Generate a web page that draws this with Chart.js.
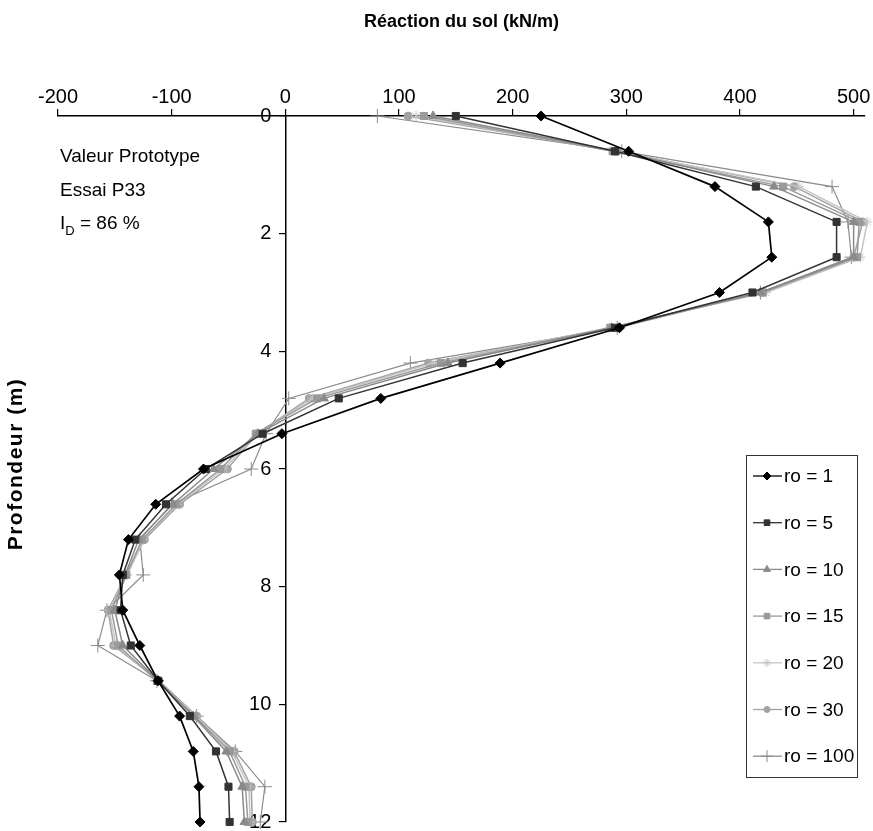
<!DOCTYPE html>
<html>
<head>
<meta charset="utf-8">
<script src="https://cdn.jsdelivr.net/npm/chart.js@4.4.1/dist/chart.umd.min.js"></script>
<style>
html, body { margin: 0; padding: 0; background: #fff; }
#wrap { width: 873px; height: 831px; }
</style>
</head>
<body>
<div id="wrap"><canvas id="reaction_chart"></canvas></div>
<script>
// profondeur (m)
const depths = [0, 0.6, 1.2, 1.8, 2.4, 3.0, 3.6, 4.2, 4.8, 5.4, 6.0, 6.6, 7.2, 7.8, 8.4, 9.0, 9.6, 10.2, 10.8, 11.4, 12.0];

// réaction du sol (kN/m) par série
const ro1   = [225, 302, 378, 425, 428, 382, 294, 189, 84, -3, -72, -114, -138, -146, -143, -128, -112, -93, -81, -76, -75];
const ro5   = [150, 290, 414, 485, 485, 411, 290, 156, 47, -20, -70, -105, -132, -143, -145, -136, -112, -84, -61, -50, -49];
const ro10  = [130, 292, 430, 500, 500, 418, 287, 143, 34, -24, -63, -99, -129, -141, -150, -143, -112, -81, -52, -38, -36];
const ro15  = [122, 288, 438, 505, 503, 420, 286, 137, 28, -26, -57, -96, -126, -140, -153, -147, -113, -80, -49, -35, -33];
const ro20  = [115, 290, 452, 512, 506, 423, 285, 130, 24, -25, -54, -95, -125, -139, -155, -149, -112, -79, -47, -32, -31];
const ro30  = [108, 292, 448, 508, 500, 420, 287, 126, 21, -25, -51, -93, -124, -140, -156, -151, -111, -78, -45, -30, -29];
const ro100 = [81, 296, 481, 495, 498, 418, 292, 110, 3, -17, -30, -100, -128, -125, -157, -165, -113, -78, -44, -18, -22];

const seriesLabels = ['ro = 1', 'ro = 5', 'ro = 10', 'ro = 15', 'ro = 20', 'ro = 30', 'ro = 100'];
const xTicks = [-200, -100, 0, 100, 200, 300, 400, 500];
const yTicks = [0, 2, 4, 6, 8, 10, 12];

const FONT = "'Liberation Sans', Arial, sans-serif";

function toPoints(values) {
    return depths.map((d, i) => ({ x: values[i], y: d }));
}

const styles = [
    { color: '#000000', point: 'rectRot', radius: 5, width: 1.7 },
    { color: '#333333', point: 'rect', radius: 5, width: 1.5 },
    { color: '#8a8a8a', point: 'triangle', radius: 5, width: 1.5 },
    { color: '#9a9a9a', point: 'rect', radius: 5, width: 1.5 },
    { color: '#c4c4c4', point: 'star', radius: 5, width: 1.5 },
    { color: '#a2a2a2', point: 'circle', radius: 4, width: 1.5 },
    { color: '#8c8c8c', point: 'cross', radius: 7, width: 1.2 },
];

const allSeries = [ro1, ro5, ro10, ro15, ro20, ro30, ro100];

// légende, texte et titre vertical dessinés sur le canvas
const extrasPlugin = {
    id: 'extras',
    afterDraw(chart) {
        const ctx = chart.ctx;
        ctx.save();

        // titre axe vertical
        ctx.translate(16, 464);
        ctx.rotate(-Math.PI / 2);
        ctx.font = 'bold 21px ' + FONT;
        ctx.letterSpacing = '1.5px';
        ctx.fillStyle = '#000';
        ctx.textAlign = 'center';
        ctx.textBaseline = 'middle';
        ctx.fillText('Profondeur (m)', 0, 0);
        ctx.restore();

        // texte essai
        ctx.save();
        ctx.fillStyle = '#000';
        ctx.font = '19px ' + FONT;
        ctx.textBaseline = 'middle';
        ctx.textAlign = 'left';
        ctx.fillText('Valeur Prototype', 60, 157);
        ctx.fillText('Essai P33', 60, 191);
        ctx.fillText('I', 60, 224);
        let w = ctx.measureText('I').width;
        ctx.font = '13px ' + FONT;
        ctx.fillText('D', 60 + w, 231);
        w += ctx.measureText('D').width;
        ctx.font = '19px ' + FONT;
        ctx.fillText(' = 86 %', 60 + w, 224);
        ctx.restore();

        // légende
        ctx.save();
        ctx.fillStyle = '#fff';
        ctx.fillRect(746, 455, 111, 322);
        ctx.strokeStyle = '#333';
        ctx.lineWidth = 1;
        ctx.strokeRect(746.5, 455.5, 111, 322);
        ctx.font = '19px ' + FONT;
        ctx.textBaseline = 'middle';
        ctx.textAlign = 'left';
        chart.data.datasets.forEach((ds, i) => {
            const y = 476 + i * 46.7;
            ctx.strokeStyle = ds.borderColor;
            ctx.fillStyle = ds.borderColor;
            ctx.lineWidth = 1.3;
            ctx.beginPath();
            ctx.moveTo(753, y);
            ctx.lineTo(782, y);
            ctx.stroke();
            ctx.lineWidth = 1;
            Chart.helpers.drawPoint(ctx, {
                pointStyle: ds.pointStyle,
                radius: Math.max(ds.pointRadius - 1, 3),
                rotation: 0,
                borderWidth: 1
            }, 767, y);
            ctx.fillStyle = '#000';
            ctx.fillText(ds.label, 784, y + 1);
        });
        ctx.restore();
    }
};

function fnReactionChart() {
    const ctx = document.getElementById('reaction_chart').getContext('2d');
    const datasets = allSeries.map((values, i) => ({
        label: seriesLabels[i],
        data: toPoints(values),
        showLine: true,
        borderColor: styles[i].color,
        backgroundColor: styles[i].color,
        borderWidth: styles[i].width,
        pointStyle: styles[i].point,
        pointRadius: styles[i].radius,
        pointBorderWidth: 1,
        pointBorderColor: styles[i].color,
        pointBackgroundColor: styles[i].color,
        clip: false,
        tension: 0,
    }));

    new Chart(ctx, {
        type: 'scatter',
        data: { datasets: datasets },
        options: {
            responsive: true,
            maintainAspectRatio: false,
            animation: false,
            layout: {
                padding: { left: 58, right: 2, top: 0, bottom: 9 }
            },
            scales: {
                x: {
                    type: 'linear',
                    position: 'top',
                    min: -200,
                    max: 510,
                    afterBuildTicks: (scale) => {
                        scale.ticks = xTicks.map(v => ({ value: v }));
                    },
                    afterFit: (scale) => {
                        scale.height = 116;
                        scale.paddingLeft = 0;
                        scale.paddingRight = 0;
                    },
                    grid: {
                        drawOnChartArea: false,
                        drawTicks: true,
                        tickLength: 7,
                        color: '#000',
                        lineWidth: 1.2
                    },
                    border: { display: true, color: '#000', width: 1.5 },
                    ticks: {
                        color: '#000',
                        padding: 0,
                        maxRotation: 0,
                        font: { family: FONT, size: 20 }
                    },
                    title: {
                        display: true,
                        text: 'Réaction du sol (kN/m)',
                        color: '#000',
                        padding: { top: 11, bottom: 0 },
                        font: { family: FONT, size: 18, weight: 'bold' }
                    }
                },
                y: {
                    type: 'linear',
                    position: { x: 0 },
                    reverse: true,
                    min: 0,
                    max: 12,
                    afterBuildTicks: (scale) => {
                        scale.ticks = yTicks.map(v => ({ value: v }));
                    },
                    afterFit: (scale) => {
                        scale.paddingTop = 0;
                        scale.paddingBottom = 0;
                    },
                    grid: {
                        drawOnChartArea: false,
                        drawTicks: true,
                        tickLength: 6,
                        color: '#000',
                        lineWidth: 1.2
                    },
                    border: { display: true, color: '#000', width: 1.5 },
                    ticks: {
                        color: '#000',
                        // labels sit right-aligned on the axis line; spaces keep them off the tick marks
                        callback: (v) => v + '\u2002\u2009',
                        font: { family: FONT, size: 20 }
                    }
                }
            },
            plugins: {
                legend: { display: false },
                tooltip: { enabled: false },
                title: { display: false }
            }
        },
        plugins: [extrasPlugin]
    });
}

fnReactionChart();
</script>
</body>
</html>
